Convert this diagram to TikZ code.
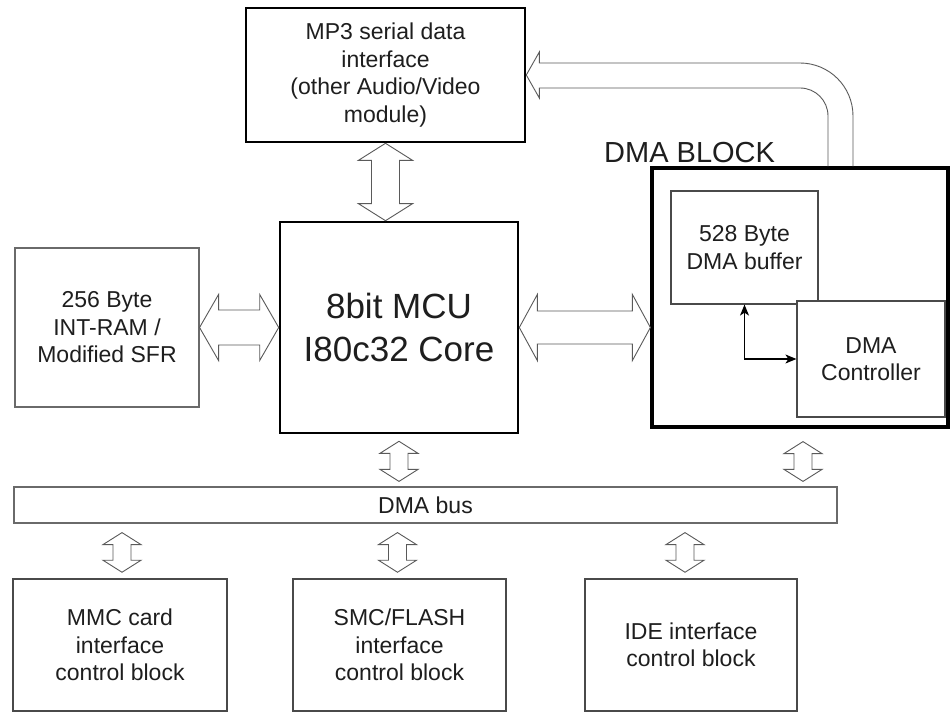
\documentclass[tikz,border=0pt]{standalone}
\usepackage{fontspec}
\setmainfont{Liberation Sans}
\usetikzlibrary{calc,arrows.meta}
\definecolor{boxgray}{HTML}{4A4A4A}
\definecolor{lightgray}{HTML}{6A6A6A}
\definecolor{txt}{HTML}{1E1E1E}
\definecolor{arrgray}{HTML}{5A5A5A}
\begin{document}
\begin{tikzpicture}[x=1bp,y=-1bp,
  box/.style={draw=boxgray, line width=1.2bp, fill=white, inner sep=0pt, align=center, text=txt,
    font=\fontsize{23bp}{27.5bp}\selectfont},
  thinbox/.style={box, draw=lightgray, line width=1.1bp},
  thickbox/.style={box, draw=black, line width=2.6bp},
  arrline/.style={draw=arrgray, line width=0.9bp, line join=miter},
  fat/.style n args={3}{arrline,
    to path={
      ($(\tikztostart)!#3!(\tikztotarget)$) coordinate (fa1)
      ($(\tikztotarget)!#3!(\tikztostart)$) coordinate (fa2)
      (\tikztostart) -- ($(fa1)!#2!90:(\tikztotarget)$) -- ($(fa1)!#1!90:(\tikztotarget)$)
      -- ($(fa2)!#1!-90:(\tikztostart)$) -- ($(fa2)!#2!-90:(\tikztostart)$) -- (\tikztotarget)
      -- ($(fa2)!#2!90:(\tikztostart)$) -- ($(fa2)!#1!90:(\tikztostart)$)
      -- ($(fa1)!#1!-90:(\tikztotarget)$) -- ($(fa1)!#2!-90:(\tikztotarget)$) -- cycle
    }},
  small/.style={fat={9bp}{19bp}{12bp}}
]
\useasboundingbox[fill=white] (0,0) rectangle (950,713);

% main blocks
\node[thickbox, minimum width=279bp, minimum height=134bp] (mp3) at (385.5,75)
  {MP3 serial data\\interface\\(other Audio/Video\\module)};
\node[thickbox, minimum width=238bp, minimum height=211bp,
  font=\fontsize{35bp}{43bp}\selectfont] (mcu) at (399,327.5) {8bit MCU\\I80c32 Core};
\node[thinbox, minimum width=184bp, minimum height=159bp] (ram) at (107,327.5)
  {256 Byte\\INT-RAM /\\Modified SFR};

% DMA block
\node[thickbox, line width=3.2bp, minimum width=296bp, minimum height=259bp] (dma) at (800,297.5) {};
\node[anchor=base west, inner sep=0pt, text=txt, font=\fontsize{29bp}{29bp}\selectfont]
  (dmalabel) at (604,163) {DMA BLOCK};
\node[box, minimum width=147bp, minimum height=113bp] (dmabuf) at (744.5,247.5) {528 Byte\\DMA buffer};
\node[box, minimum width=148bp, minimum height=116bp] (dmactl) at (871,359) {DMA\\Controller};
\draw[black, line width=1.2bp, {Stealth[length=11bp,width=9bp,inset=3bp]}-{Stealth[length=11bp,width=9bp,inset=3bp]}]
  (dmabuf.south) |- (dmactl.west);

% bus and peripheral blocks
\node[box, draw=lightgray, minimum width=823bp, minimum height=36bp] (bus) at (425.5,505) {DMA bus};
\node[box, line width=1.5bp, minimum width=214bp, minimum height=132bp] (b1) at (120,645)
  {MMC card\\interface\\control block};
\node[box, line width=1.5bp, minimum width=213bp, minimum height=132bp] (b2) at (399.5,645)
  {SMC/FLASH\\interface\\control block};
\node[box, line width=1.5bp, minimum width=212bp, minimum height=132bp] (b3) at (691,645)
  {IDE interface\\control block};

% wide hollow arrows
\coordinate (r1) at (ram.east |- mcu.west);
\draw[fat={17.5bp}{33bp}{19bp}] (r1) to (mcu.west);
\coordinate (d1) at (dma.west |- mcu.east);
\draw[fat={16.5bp}{33bp}{18bp}] (mcu.east) to (d1);
\coordinate (m1) at (mp3.south |- mcu.north);
\draw[fat={14bp}{27bp}{17bp}] (mp3.south) to (m1);

% small hollow arrows
\coordinate (s1a) at ($(mcu.south)+(0,7)$);
\coordinate (s1b) at ($(bus.north -| mcu.south)+(0,-5)$);
\draw[small] (s1a) to (s1b);
\coordinate (s2a) at ($(dma.south)+(3,13)$);
\coordinate (s2b) at ($(bus.north -| s2a)+(0,-5)$);
\draw[small] (s2a) to (s2b);
\coordinate (p1a) at ($(bus.south -| b1.north)+(2,9)$);
\coordinate (p1b) at ($(b1.north)+(2,-6)$);
\draw[small] (p1a) to (p1b);
\coordinate (p2a) at ($(bus.south -| b2.north)+(-2,9)$);
\coordinate (p2b) at ($(b2.north)+(-2,-6)$);
\draw[small] (p2a) to (p2b);
\coordinate (p3a) at ($(bus.south -| b3.north)+(-6,9)$);
\coordinate (p3b) at ($(b3.north)+(-6,-6)$);
\draw[small] (p3a) to (p3b);

% curved wide arrow from DMA block to MP3 interface
\draw[arrline] (mp3.east) -- ++(13,-23) -- ++(0,11) -- (800,63)
  .. controls (829.3,63) and (853,86.7) .. (853,116) -- (853,166.5);
\draw[arrline] (mp3.east) -- ++(13,23) -- ++(0,-10) -- (800,88)
  .. controls (815.5,88) and (828,100.5) .. (828,116) -- (828,166.5);
\end{tikzpicture}
\end{document}
